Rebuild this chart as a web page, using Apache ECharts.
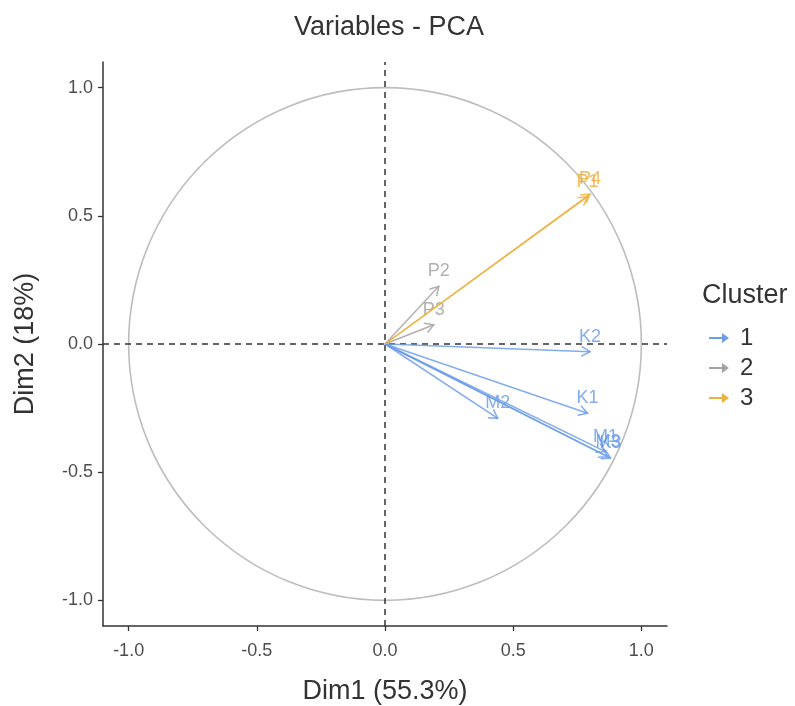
<!DOCTYPE html>
<html>
<head>
<meta charset="utf-8">
<script src="https://cdn.jsdelivr.net/npm/echarts@6/dist/echarts.min.js"></script>
<style>
  html, body { margin: 0; padding: 0; background: #fff; }
  #chart { width: 795px; height: 706px; }
</style>
</head>
<body>
<div id="chart"></div>
<script>
// variable coordinates on the first two dimensions
const varNames = ['P1', 'P4', 'P2', 'P3', 'K2', 'K1', 'M2', 'M1', 'M3', 'K3']
const dim1 = [0.79, 0.80, 0.21, 0.19, 0.80, 0.79, 0.44, 0.86, 0.87, 0.88]
const dim2 = [0.575, 0.585, 0.225, 0.075, -0.03, -0.27, -0.29, -0.42, -0.44, -0.445]
const cluster = ['3', '3', '2', '2', '1', '1', '1', '1', '1', '1']

const clusters = ['1', '2', '3']
const clusterColors = ['#6d9de9', '#a3a3a3', '#edb040']
const tickValues = [-1, -0.5, 0, 0.5, 1]

const FONT = 'Liberation Sans, Arial, sans-serif'

function renderArrow(params, api) {
  const p0 = api.coord([0, 0])
  const p1 = api.coord([api.value(0), api.value(1)])
  const color = api.visual('color')
  const a = Math.atan2(p1[1] - p0[1], p1[0] - p0[0])
  const len = 10
  const spread = Math.PI / 6
  const h1 = [p1[0] - len * Math.cos(a - spread), p1[1] - len * Math.sin(a - spread)]
  const h2 = [p1[0] - len * Math.cos(a + spread), p1[1] - len * Math.sin(a + spread)]
  const stroke = { stroke: color, fill: null, lineWidth: 1.5, opacity: 0.85 }
  return {
    type: 'group',
    children: [
      { type: 'line', shape: { x1: p0[0], y1: p0[1], x2: p1[0], y2: p1[1] }, style: stroke },
      { type: 'polyline', shape: { points: [h1, p1, h2] }, style: stroke },
      {
        type: 'text',
        style: {
          text: api.value(2), x: p1[0], y: p1[1] - 15,
          fill: color, font: '18px ' + FONT, align: 'center', verticalAlign: 'middle', opacity: 0.85
        }
      }
    ]
  }
}

const arrowSeries = clusters.map((c, k) => ({
  name: c,
  type: 'custom',
  coordinateSystem: 'cartesian2d',
  itemStyle: { color: clusterColors[k] },
  encode: { x: 0, y: 1 },
  data: varNames
    .map((n, i) => [dim1[i], dim2[i], n, cluster[i]])
    .filter(r => r[3] === c),
  renderItem: renderArrow,
  z: 5
}))

const chart = echarts.init(document.getElementById('chart'))
chart.setOption({
  animation: false,
  textStyle: { fontFamily: FONT },
  title: [
    { text: 'Variables - PCA', left: 384, top: 9, textAlign: 'center',
      textStyle: { fontSize: 27, fontWeight: 'normal', color: '#333', fontFamily: FONT } },
    { text: 'Cluster', left: 697, top: 277,
      textStyle: { fontSize: 27, fontWeight: 'normal', color: '#333', fontFamily: FONT } }
  ],
  legend: {
    data: clusters,
    orient: 'vertical',
    left: 704,
    top: 321,
    itemGap: 6,
    itemWidth: 24,
    itemHeight: 10,
    icon: 'path://M0,4 L13,4 L13,0 L20,5 L13,10 L13,6 L0,6 Z',
    textStyle: { fontSize: 24, color: '#333', fontFamily: FONT, padding: [0, 0, 0, 4] }
  },
  grid: { left: 103, top: 62, width: 564, height: 564, containLabel: false, outerBoundsMode: 'none' },
  xAxis: {
    type: 'value', min: -1.1, max: 1.1,
    name: 'Dim1 (55.3%)', nameLocation: 'middle', nameGap: 52,
    nameTextStyle: { fontSize: 27, color: '#333', fontFamily: FONT },
    axisLine: { onZero: false, lineStyle: { color: '#333', width: 1.5 } },
    axisTick: { show: true, length: 5, customValues: tickValues, lineStyle: { color: '#333', width: 1.3 } },
    axisLabel: { customValues: tickValues, formatter: v => v.toFixed(1), fontSize: 18, color: '#4d4d4d', margin: 16 },
    splitLine: { show: false }
  },
  yAxis: {
    type: 'value', min: -1.1, max: 1.1,
    name: 'Dim2 (18%)', nameLocation: 'middle', nameGap: 64, nameRotate: 90,
    nameTextStyle: { fontSize: 27, color: '#333', fontFamily: FONT },
    axisLine: { show: true, onZero: false, lineStyle: { color: '#333', width: 1.5 } },
    axisTick: { show: true, length: 5, customValues: tickValues, lineStyle: { color: '#333', width: 1.3 } },
    axisLabel: { customValues: tickValues, formatter: v => v.toFixed(1), fontSize: 18, color: '#4d4d4d', margin: 10 },
    splitLine: { show: false }
  },
  series: [
    {
      // correlation circle: centre (0,0), radius 1
      type: 'custom',
      coordinateSystem: 'cartesian2d',
      data: [[0, 0, 1]],
      encode: { x: 0, y: 1 },
      silent: true,
      renderItem: (params, api) => {
        const c = api.coord([api.value(0), api.value(1)])
        const r = api.size([api.value(2), 0])[0]
        return { type: 'circle', shape: { cx: c[0], cy: c[1], r: r },
          style: { fill: 'none', stroke: '#bdbdbd', lineWidth: 1.6 } }
      },
      z: 1,
      markLine: {
        silent: true,
        symbol: 'none',
        label: { show: false },
        lineStyle: { color: '#333', type: [6, 5], width: 1.5 },
        data: [{ xAxis: 0 }, { yAxis: 0 }]
      }
    },
    ...arrowSeries
  ]
})
</script>
</body>
</html>
